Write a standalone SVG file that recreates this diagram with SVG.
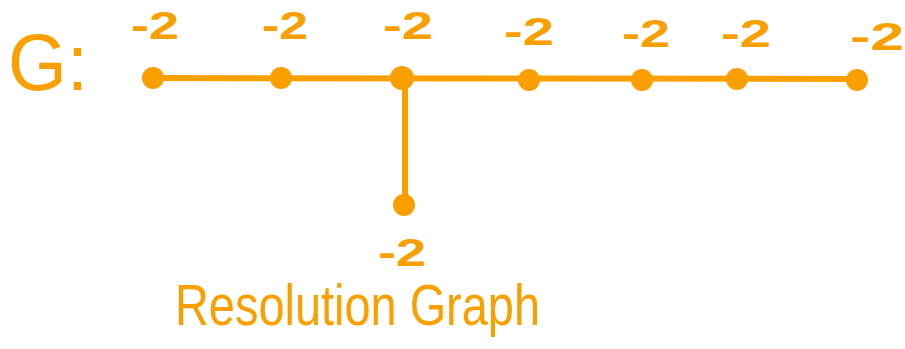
<svg xmlns="http://www.w3.org/2000/svg" width="905" height="349" viewBox="0 0 905 349">
<style>
.edge{stroke:#F9A000;stroke-width:6;stroke-linecap:round;fill:none}
.node{fill:#F9A000}
.lbl{font-family:"Liberation Sans",sans-serif;font-size:38px;font-weight:bold;fill:#F9A000}
.big{font-family:"Liberation Sans",sans-serif;fill:#F9A000}
</style>
<rect width="905" height="349" fill="#fff"/>
<text class="big" x="8" y="90" font-size="80" textLength="80" lengthAdjust="spacingAndGlyphs">G:</text>
<g id="edges">
<line class="edge" x1="153" y1="78" x2="856" y2="79"/>
<line class="edge" x1="405" y1="78" x2="405" y2="204"/>
</g>
<g id="n1"><circle class="node" cx="153" cy="78" r="11"/><text class="lbl" x="131" y="39" textLength="48" lengthAdjust="spacingAndGlyphs">-2</text></g>
<g id="n2"><circle class="node" cx="281" cy="78" r="11"/><text class="lbl" x="262" y="39" textLength="46" lengthAdjust="spacingAndGlyphs">-2</text></g>
<g id="n3"><circle class="node" cx="402" cy="78" r="12"/><text class="lbl" x="383" y="39" textLength="50" lengthAdjust="spacingAndGlyphs">-2</text></g>
<g id="n4"><circle class="node" cx="529" cy="80" r="11"/><text class="lbl" x="504" y="45" textLength="50" lengthAdjust="spacingAndGlyphs">-2</text></g>
<g id="n5"><circle class="node" cx="642" cy="80" r="11"/><text class="lbl" x="622" y="47" textLength="48" lengthAdjust="spacingAndGlyphs">-2</text></g>
<g id="n6"><circle class="node" cx="737" cy="79" r="11"/><text class="lbl" x="721" y="47" textLength="50" lengthAdjust="spacingAndGlyphs">-2</text></g>
<g id="n7"><circle class="node" cx="857" cy="80" r="11"/><text class="lbl" x="850" y="50" textLength="54" lengthAdjust="spacingAndGlyphs">-2</text></g>
<g id="n8"><circle class="node" cx="404" cy="205" r="11"/><text class="lbl" x="378" y="266" textLength="48" lengthAdjust="spacingAndGlyphs">-2</text></g>
<text class="big" x="175" y="325" font-size="58" textLength="365" lengthAdjust="spacingAndGlyphs">Resolution Graph</text>
</svg>
